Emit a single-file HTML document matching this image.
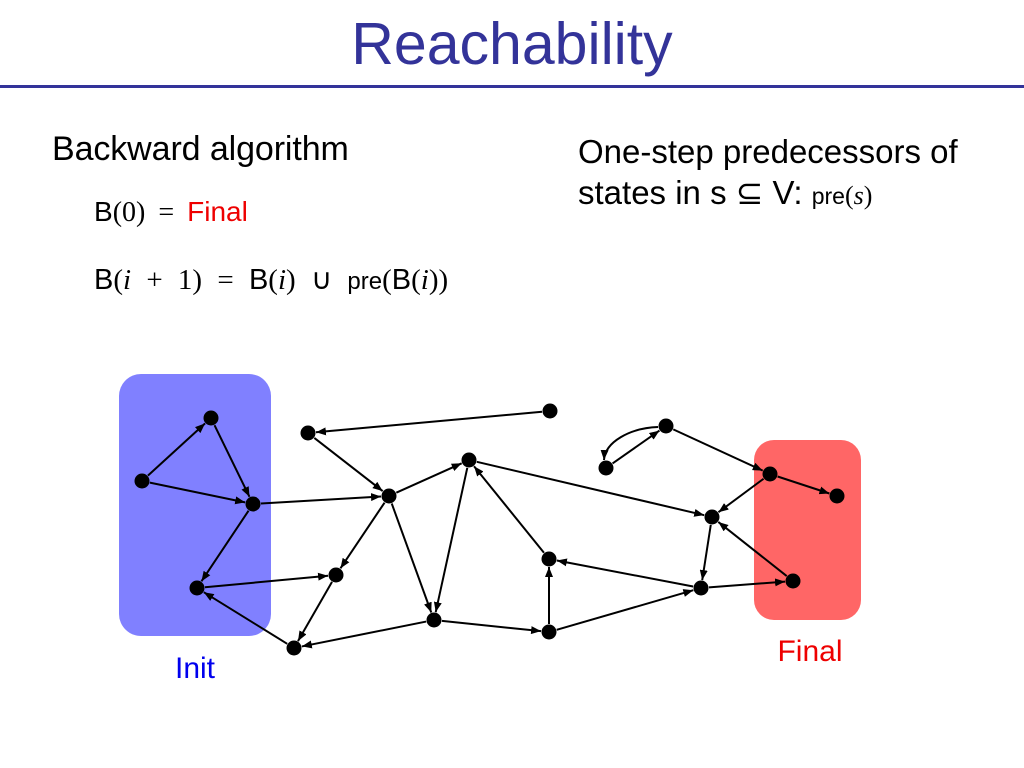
<!DOCTYPE html>
<html><head><style>
body{margin:0;width:1024px;height:768px;background:#fff;overflow:hidden;font-family:"Liberation Sans",sans-serif;position:relative}
.t{position:absolute;white-space:nowrap}
.s{font-family:'Liberation Sans',sans-serif}
</style></head><body>
<div class="t" style="left:0;width:1024px;top:10px;text-align:center;font-size:59px;color:#333399">Reachability</div>
<div style="position:absolute;left:0;top:85px;width:1024px;height:3px;background:#333399"></div>
<div class="t" style="left:52px;top:130px;font-size:34px;letter-spacing:-0.1px">Backward algorithm</div>
<div class="t" style="left:94px;top:196px;font-size:28px;font-family:'Liberation Serif',serif;word-spacing:6px"><span class="s">B</span>(0) = <span style="color:#e00" class="s">Final</span></div>
<div class="t" style="left:94px;top:262px;font-size:29px;font-family:'Liberation Serif',serif;word-spacing:8px"><span class="s">B</span>(<i>i</i> + 1) = <span class="s">B</span>(<i>i</i>) ∪ <span class="s" style="font-size:24px">pre</span>(<span class="s">B</span>(<i>i</i>))</div>
<div class="t" style="left:578px;top:133px;font-size:33px">One-step predecessors of</div>
<div class="t" style="left:578px;top:173px;font-size:33px">states in s ⊆ V: <span style="font-size:23px">pre</span><span style="font-family:'Liberation Serif',serif;font-size:26px">(<i>s</i>)</span></div>
<svg width="1024" height="768" style="position:absolute;left:0;top:0">
<defs><marker id="a" markerWidth="10" markerHeight="8" refX="10" refY="4" orient="auto" markerUnits="userSpaceOnUse"><path d="M0,0L10,4L0,8z"/></marker></defs>
<rect x="119" y="374" width="152" height="262" rx="22" fill="#8080ff"/>
<rect x="754" y="440" width="107" height="180" rx="20" fill="#ff6666"/>
<text x="195" y="678" font-size="30" fill="#0000ee" text-anchor="middle" font-family="Liberation Sans">Init</text>
<text x="810" y="661" font-size="30" fill="#ee0000" text-anchor="middle" font-family="Liberation Sans">Final</text>
<g stroke="#000" stroke-width="2" fill="none" marker-end="url(#a)" id="e"></g>
<g id="n"></g>
</svg>
<script>
var N={A:[211,418],B:[142,481],C:[253,504],D:[197,588],E:[308,433],F:[389,496],G:[336,575],H:[294,648],I:[434,620],J:[469,460],K:[550,411],L:[549,559],M:[549,632],N:[606,468],O:[666,426],P:[770,474],Q:[837,496],R:[712,517],S:[701,588],T:[793,581]};
var E="BA AC BC CF CD DG HD KE EF FJ FG FI GH JI IH IM LJ ML MS SL JR OP PQ PR RS TR ST NO".split(" ");
var s="",r=8;
E.forEach(function(e){var a=N[e[0]],b=N[e[1]],dx=b[0]-a[0],dy=b[1]-a[1],l=Math.hypot(dx,dy);
s+='<line x1="'+(a[0]+dx/l*r)+'" y1="'+(a[1]+dy/l*r)+'" x2="'+(b[0]-dx/l*r)+'" y2="'+(b[1]-dy/l*r)+'"/>';});
s+='<path d="M658,427 C630,428 605,442 604,460"/>';
document.getElementById('e').innerHTML=s;
var t="";for(var k in N)t+='<circle cx="'+N[k][0]+'" cy="'+N[k][1]+'" r="7.5"/>';
document.getElementById('n').innerHTML=t;
</script>
</body></html>
